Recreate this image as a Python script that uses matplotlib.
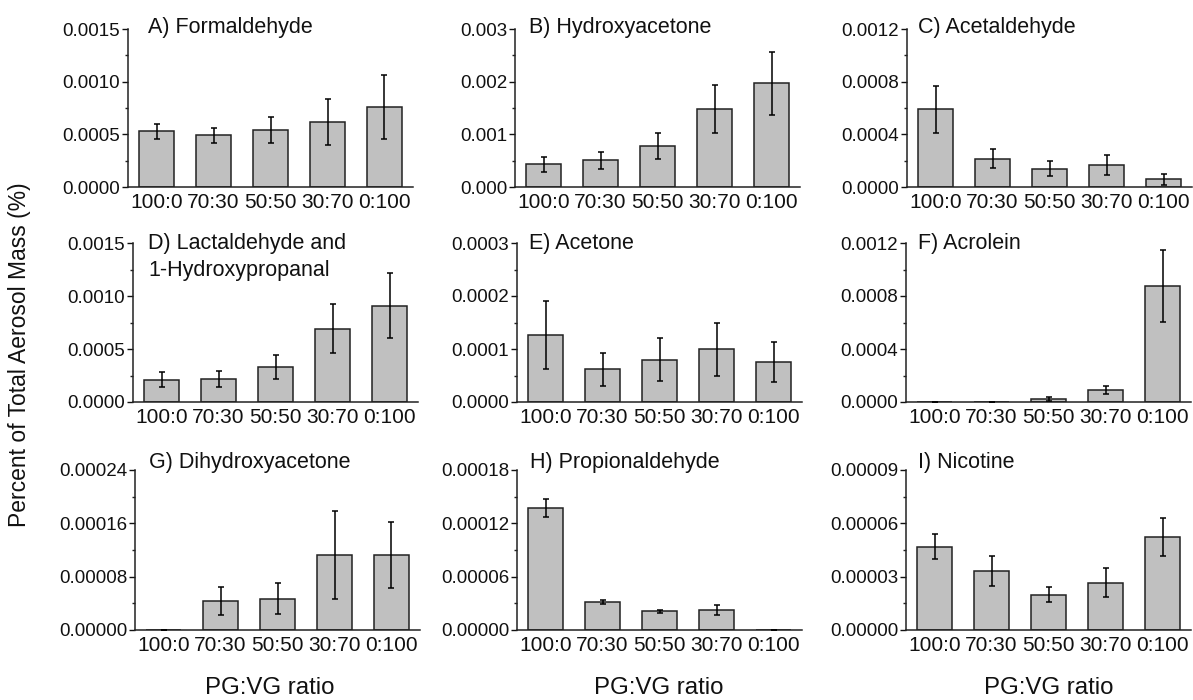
import matplotlib
matplotlib.use("Agg")
import matplotlib.pyplot as plt
import numpy as np
from matplotlib.ticker import FixedLocator, FormatStrFormatter

plt.rcParams['font.family'] = ['Liberation Sans', 'DejaVu Sans']

ratios = ["100:0", "70:30", "50:50", "30:70", "0:100"]

# panel titles
titles = ["A) Formaldehyde", "B) Hydroxyacetone", "C) Acetaldehyde",
          "D) Lactaldehyde and\n1-Hydroxypropanal", "E) Acetone", "F) Acrolein",
          "G) Dihydroxyacetone", "H) Propionaldehyde", "I) Nicotine"]

# mean values (% of total aerosol mass)
formaldehyde = [0.00053, 0.00049, 0.00054, 0.00062, 0.00076]
hydroxyacetone = [0.00043, 0.00051, 0.00078, 0.00148, 0.00197]
acetaldehyde = [0.00059, 0.000215, 0.00014, 0.000165, 0.000058]
lactaldehyde = [0.00021, 0.000214, 0.000327, 0.00069, 0.00091]
acetone = [0.000127, 0.000062, 0.00008, 0.0001, 0.000076]
acrolein = [0.000002, 0.000003, 0.00002, 0.000088, 0.000875]
dihydroxyacetone = [0.0, 0.0000435, 0.000047, 0.000113, 0.0001125]
propionaldehyde = [0.000137, 0.0000316, 0.0000211, 0.0000226, 0.0]
nicotine = [0.0000468, 0.0000331, 0.0000199, 0.0000267, 0.0000522]

# standard deviations
formaldehyde_err = [0.00007, 0.00007, 0.000125, 0.00022, 0.0003]
hydroxyacetone_err = [0.00014, 0.00016, 0.00024, 0.00046, 0.0006]
acetaldehyde_err = [0.000177, 0.00007, 0.000054, 0.000076, 0.00004]
lactaldehyde_err = [0.00007, 0.000075, 0.000113, 0.00023, 0.00031]
acetone_err = [0.000064, 0.000031, 0.000041, 0.00005, 0.000038]
acrolein_err = [0.0, 0.0, 0.000015, 0.00003, 0.00027]
dihydroxyacetone_err = [0.0, 0.000021, 0.000023, 0.000066, 0.000049]
propionaldehyde_err = [0.00001, 0.000002, 0.0000015, 0.0000053, 0.0]
nicotine_err = [0.000007, 0.0000083, 0.0000041, 0.000008, 0.0000107]

values = [formaldehyde, hydroxyacetone, acetaldehyde, lactaldehyde, acetone,
          acrolein, dihydroxyacetone, propionaldehyde, nicotine]
errors = [formaldehyde_err, hydroxyacetone_err, acetaldehyde_err, lactaldehyde_err,
          acetone_err, acrolein_err, dihydroxyacetone_err, propionaldehyde_err, nicotine_err]

# y axis: top value, step, decimals
y_tops = [0.0015, 0.003, 0.0012, 0.0015, 0.0003, 0.0012, 0.00024, 0.00018, 0.00009]
y_steps = [0.0005, 0.001, 0.0004, 0.0005, 0.0001, 0.0004, 0.00008, 0.00006, 0.00003]
y_decimals = [4, 3, 4, 4, 4, 4, 5, 5, 5]

W, H = 1193, 700
fig = plt.figure(figsize=(W / 100, H / 100), dpi=100)

# layout in pixels
lefts = [[128, 515, 907], [133, 517, 906], [135, 517, 906]]
rows = [(29, 187), (243, 402), (470, 630)]
ax_w = 285
title_dx = [[20, 14, 11], [15, 12, 12], [14, 13, 12]]
title_dy = [4, 6, -2]
line_gap = 27

bar_face = "#c0c0c0"
edge = "#222222"
x = np.arange(1, 6)

for i in range(9):
    r, c = divmod(i, 3)
    top, bot = rows[r]
    ax = fig.add_axes([lefts[r][c] / W, 1 - bot / H, ax_w / W, (bot - top) / H])
    ax.bar(x, values[i], width=0.61, color=bar_face, edgecolor=edge, linewidth=1.1, zorder=2)
    ax.errorbar(x, values[i], yerr=errors[i], fmt='none', ecolor='black',
                elinewidth=1.1, capsize=2.5, capthick=1.1, zorder=3)
    ax.set_xlim(0.5, 5.5)
    ax.set_ylim(0, y_tops[i])
    ax.set_xticks(x)
    ax.set_xticklabels(ratios)
    ax.yaxis.set_major_locator(FixedLocator(np.arange(4) * y_steps[i]))
    ax.yaxis.set_minor_locator(FixedLocator((np.arange(3) + 0.5) * y_steps[i]))
    ax.yaxis.set_major_formatter(FormatStrFormatter('%.' + str(y_decimals[i]) + 'f'))
    for s in ['top', 'right']:
        ax.spines[s].set_visible(False)
    for s in ['left', 'bottom']:
        ax.spines[s].set_linewidth(1.1)
        ax.spines[s].set_color(edge)
    ax.tick_params(axis='x', length=0, pad=4, labelsize=15, colors='#111111')
    ax.tick_params(axis='y', which='major', length=4, width=1, pad=1.5,
                   labelsize=13.5, colors='#111111', direction='out')
    ax.tick_params(axis='y', which='minor', length=2.5, width=1, color=edge, direction='out')
    for k, line in enumerate(titles[i].split("\n")):
        ax.annotate(line, xy=(0, 1), xycoords='axes fraction',
                    xytext=(title_dx[r][c], -title_dy[r] - k * line_gap),
                    textcoords='offset pixels', ha='left', va='baseline',
                    fontsize=15.5, color='#111111')

fig.text(20 / W, 1 - 355 / H, "Percent of Total Aerosol Mass (%)", rotation=90,
         ha='center', va='center', fontsize=16.5, color='#111111')
for cx in [270, 659, 1049]:
    fig.text(cx / W, 1 - 688 / H, "PG:VG ratio", ha='center', va='center',
             fontsize=17.3, color='#111111')

fig.savefig("out.png", dpi=100)
